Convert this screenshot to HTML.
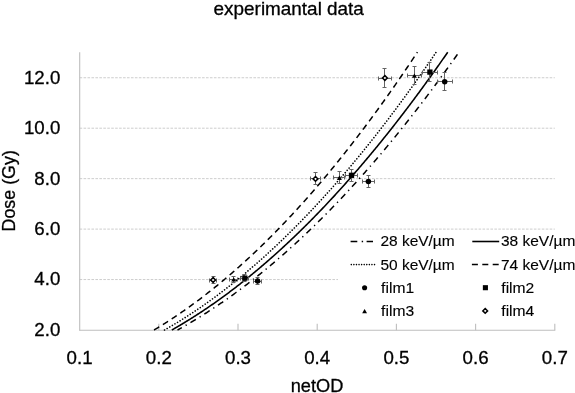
<!DOCTYPE html>
<html><head><meta charset="utf-8"><title>chart</title>
<style>
html,body{margin:0;padding:0;background:#fff;}
body{width:575px;height:393px;overflow:hidden;}
svg{display:block;will-change:transform;}
text{font-family:"Liberation Sans",sans-serif;fill:#000;stroke:#000;stroke-width:0.3px;}
</style></head><body>
<svg width="575" height="393" viewBox="0 0 575 393">
<rect width="575" height="393" fill="#fff"/>

<line x1="79.6" x2="554.8" y1="279.55" y2="279.55" stroke="#cdcdcd" stroke-width="1" stroke-dasharray="2.6 1.35"/>
<line x1="79.6" x2="554.8" y1="229.10" y2="229.10" stroke="#cdcdcd" stroke-width="1" stroke-dasharray="2.6 1.35"/>
<line x1="79.6" x2="554.8" y1="178.65" y2="178.65" stroke="#cdcdcd" stroke-width="1" stroke-dasharray="2.6 1.35"/>
<line x1="79.6" x2="554.8" y1="128.20" y2="128.20" stroke="#cdcdcd" stroke-width="1" stroke-dasharray="2.6 1.35"/>
<line x1="79.6" x2="554.8" y1="77.75" y2="77.75" stroke="#cdcdcd" stroke-width="1" stroke-dasharray="2.6 1.35"/>
<line x1="79.69999999999999" x2="79.69999999999999" y1="52.2" y2="330.8" stroke="#bebebe" stroke-width="1.1"/>
<line x1="79.6" x2="555.3" y1="330.3" y2="330.3" stroke="#bebebe" stroke-width="1.1"/>
<line x1="158.80" x2="158.80" y1="323.7" y2="330.3" stroke="#bebebe" stroke-width="1.1"/>
<line x1="238.00" x2="238.00" y1="323.7" y2="330.3" stroke="#bebebe" stroke-width="1.1"/>
<line x1="317.20" x2="317.20" y1="323.7" y2="330.3" stroke="#bebebe" stroke-width="1.1"/>
<line x1="396.40" x2="396.40" y1="323.7" y2="330.3" stroke="#bebebe" stroke-width="1.1"/>
<line x1="475.60" x2="475.60" y1="323.7" y2="330.3" stroke="#bebebe" stroke-width="1.1"/>
<line x1="554.80" x2="554.80" y1="323.7" y2="330.3" stroke="#bebebe" stroke-width="1.1"/>
<g fill="none" stroke="#000">
<path d="M177.52,330.00 L178.22,329.61 L178.93,329.22 L179.63,328.83 L180.34,328.44 L181.04,328.04 L181.75,327.65 L182.45,327.25 L183.16,326.85 L183.86,326.45 L184.57,326.05 L185.28,325.64 L185.98,325.24 L186.69,324.83 L187.39,324.42 L188.10,324.01 L188.80,323.60 L189.51,323.19 L190.21,322.77 L190.92,322.36 L191.62,321.94 L192.33,321.52 L193.03,321.10 L193.74,320.67 L194.44,320.25 L195.15,319.82 L195.85,319.40 L196.56,318.97 L197.27,318.54 L197.97,318.11 L198.68,317.67 L199.38,317.24 L200.09,316.80 L200.79,316.36 L201.50,315.93 L202.20,315.48 L202.91,315.04 L203.61,314.60 L204.32,314.15 L205.02,313.70 L205.73,313.26 L206.43,312.81 L207.14,312.35 L207.84,311.90 L208.55,311.45 L209.25,310.99 L209.96,310.53 L210.67,310.07 L211.37,309.61 L212.08,309.15 L212.78,308.68 L213.49,308.22 L214.19,307.75 L214.90,307.28 L215.60,306.81 L216.31,306.34 L217.01,305.86 L217.72,305.39 L218.42,304.91 L219.13,304.44 L219.83,303.96 L220.54,303.47 L221.24,302.99 L221.95,302.51 L222.65,302.02 L223.36,301.53 L224.07,301.04 L224.77,300.55 L225.48,300.06 L226.18,299.57 L226.89,299.07 L227.59,298.58 L228.30,298.08 L229.00,297.58 L229.71,297.08 L230.41,296.57 L231.12,296.07 L231.82,295.56 L232.53,295.06 L233.23,294.55 L233.94,294.04 L234.64,293.52 L235.35,293.01 L236.05,292.50 L236.76,291.98 L237.47,291.46 L238.17,290.94 L238.88,290.42 L239.58,289.90 L240.29,289.37 L240.99,288.85 L241.70,288.32 L242.40,287.79 L243.11,287.26 L243.81,286.73 L244.52,286.19 L245.22,285.66 L245.93,285.12 L246.63,284.58 L247.34,284.04 L248.04,283.50 L248.75,282.96 L249.45,282.41 L250.16,281.87 L250.87,281.32 L251.57,280.77 L252.28,280.22 L252.98,279.66 L253.69,279.11 L254.39,278.56 L255.10,278.00 L255.80,277.44 L256.51,276.88 L257.21,276.32 L257.92,275.75 L258.62,275.19 L259.33,274.62 L260.03,274.06 L260.74,273.49 L261.44,272.92 L262.15,272.34 L262.86,271.77 L263.56,271.19 L264.27,270.62 L264.97,270.04 L265.68,269.46 L266.38,268.88 L267.09,268.29 L267.79,267.71 L268.50,267.12 L269.20,266.53 L269.91,265.94 L270.61,265.35 L271.32,264.76 L272.02,264.17 L272.73,263.57 L273.43,262.97 L274.14,262.37 L274.84,261.77 L275.55,261.17 L276.26,260.57 L276.96,259.96 L277.67,259.36 L278.37,258.75 L279.08,258.14 L279.78,257.53 L280.49,256.91 L281.19,256.30 L281.90,255.68 L282.60,255.07 L283.31,254.45 L284.01,253.83 L284.72,253.21 L285.42,252.58 L286.13,251.96 L286.83,251.33 L287.54,250.70 L288.24,250.07 L288.95,249.44 L289.66,248.81 L290.36,248.17 L291.07,247.54 L291.77,246.90 L292.48,246.26 L293.18,245.62 L293.89,244.98 L294.59,244.34 L295.30,243.69 L296.00,243.04 L296.71,242.40 L297.41,241.75 L298.12,241.09 L298.82,240.44 L299.53,239.79 L300.23,239.13 L300.94,238.47 L301.64,237.81 L302.35,237.15 L303.06,236.49 L303.76,235.83 L304.47,235.16 L305.17,234.50 L305.88,233.83 L306.58,233.16 L307.29,232.49 L307.99,231.81 L308.70,231.14 L309.40,230.46 L310.11,229.78 L310.81,229.10 L311.52,228.42 L312.22,227.74 L312.93,227.06 L313.63,226.37 L314.34,225.69 L315.04,225.00 L315.75,224.31 L316.46,223.62 L317.16,222.92 L317.87,222.23 L318.57,221.53 L319.28,220.83 L319.98,220.13 L320.69,219.43 L321.39,218.73 L322.10,218.03 L322.80,217.32 L323.51,216.61 L324.21,215.91 L324.92,215.20 L325.62,214.48 L326.33,213.77 L327.03,213.06 L327.74,212.34 L328.45,211.62 L329.15,210.90 L329.86,210.18 L330.56,209.46 L331.27,208.73 L331.97,208.01 L332.68,207.28 L333.38,206.55 L334.09,205.82 L334.79,205.09 L335.50,204.36 L336.20,203.62 L336.91,202.89 L337.61,202.15 L338.32,201.41 L339.02,200.67 L339.73,199.92 L340.43,199.18 L341.14,198.43 L341.85,197.69 L342.55,196.94 L343.26,196.19 L343.96,195.44 L344.67,194.68 L345.37,193.93 L346.08,193.17 L346.78,192.41 L347.49,191.65 L348.19,190.89 L348.90,190.13 L349.60,189.37 L350.31,188.60 L351.01,187.83 L351.72,187.06 L352.42,186.29 L353.13,185.52 L353.83,184.75 L354.54,183.97 L355.25,183.20 L355.95,182.42 L356.66,181.64 L357.36,180.86 L358.07,180.07 L358.77,179.29 L359.48,178.50 L360.18,177.72 L360.89,176.93 L361.59,176.14 L362.30,175.34 L363.00,174.55 L363.71,173.75 L364.41,172.96 L365.12,172.16 L365.82,171.36 L366.53,170.56 L367.23,169.76 L367.94,168.95 L368.65,168.14 L369.35,167.34 L370.06,166.53 L370.76,165.72 L371.47,164.91 L372.17,164.09 L372.88,163.28 L373.58,162.46 L374.29,161.64 L374.99,160.82 L375.70,160.00 L376.40,159.18 L377.11,158.35 L377.81,157.53 L378.52,156.70 L379.22,155.87 L379.93,155.04 L380.63,154.21 L381.34,153.37 L382.05,152.54 L382.75,151.70 L383.46,150.86 L384.16,150.02 L384.87,149.18 L385.57,148.34 L386.28,147.49 L386.98,146.64 L387.69,145.80 L388.39,144.95 L389.10,144.10 L389.80,143.24 L390.51,142.39 L391.21,141.53 L391.92,140.68 L392.62,139.82 L393.33,138.96 L394.04,138.10 L394.74,137.23 L395.45,136.37 L396.15,135.50 L396.86,134.63 L397.56,133.76 L398.27,132.89 L398.97,132.02 L399.68,131.15 L400.38,130.27 L401.09,129.39 L401.79,128.52 L402.50,127.64 L403.20,126.75 L403.91,125.87 L404.61,124.98 L405.32,124.10 L406.02,123.21 L406.73,122.32 L407.44,121.43 L408.14,120.54 L408.85,119.64 L409.55,118.75 L410.26,117.85 L410.96,116.95 L411.67,116.05 L412.37,115.15 L413.08,114.25 L413.78,113.34 L414.49,112.43 L415.19,111.53 L415.90,110.62 L416.60,109.70 L417.31,108.79 L418.01,107.88 L418.72,106.96 L419.42,106.04 L420.13,105.12 L420.84,104.20 L421.54,103.28 L422.25,102.36 L422.95,101.43 L423.66,100.51 L424.36,99.58 L425.07,98.65 L425.77,97.72 L426.48,96.78 L427.18,95.85 L427.89,94.91 L428.59,93.98 L429.30,93.04 L430.00,92.10 L430.71,91.15 L431.41,90.21 L432.12,89.27 L432.82,88.32 L433.53,87.37 L434.24,86.42 L434.94,85.47 L435.65,84.52 L436.35,83.56 L437.06,82.61 L437.76,81.65 L438.47,80.69 L439.17,79.73 L439.88,78.77 L440.58,77.80 L441.29,76.84 L441.99,75.87 L442.70,74.90 L443.40,73.93 L444.11,72.96 L444.81,71.99 L445.52,71.01 L446.22,70.04 L446.93,69.06 L447.64,68.08 L448.34,67.10 L449.05,66.12 L449.75,65.13 L450.46,64.15 L451.16,63.16 L451.87,62.17 L452.57,61.18 L453.28,60.19 L453.98,59.20 L454.69,58.20 L455.39,57.20 L456.10,56.21 L456.80,55.21 L457.51,54.21 L458.21,53.20 L458.92,52.20" stroke-width="1.5" stroke-dasharray="6.3 4.35 1.3 4.35" stroke-dashoffset="1.4"/>
<path d="M171.83,330.00 L172.52,329.61 L173.21,329.21 L173.90,328.82 L174.59,328.42 L175.28,328.02 L175.97,327.63 L176.67,327.22 L177.36,326.82 L178.05,326.42 L178.74,326.01 L179.43,325.60 L180.12,325.20 L180.82,324.79 L181.51,324.37 L182.20,323.96 L182.89,323.55 L183.58,323.13 L184.27,322.71 L184.96,322.29 L185.66,321.87 L186.35,321.45 L187.04,321.02 L187.73,320.60 L188.42,320.17 L189.11,319.74 L189.80,319.31 L190.50,318.88 L191.19,318.45 L191.88,318.01 L192.57,317.58 L193.26,317.14 L193.95,316.70 L194.65,316.26 L195.34,315.82 L196.03,315.37 L196.72,314.93 L197.41,314.48 L198.10,314.03 L198.79,313.58 L199.49,313.13 L200.18,312.68 L200.87,312.22 L201.56,311.76 L202.25,311.31 L202.94,310.85 L203.63,310.39 L204.33,309.92 L205.02,309.46 L205.71,309.00 L206.40,308.53 L207.09,308.06 L207.78,307.59 L208.47,307.12 L209.17,306.65 L209.86,306.17 L210.55,305.70 L211.24,305.22 L211.93,304.74 L212.62,304.26 L213.32,303.78 L214.01,303.29 L214.70,302.81 L215.39,302.32 L216.08,301.83 L216.77,301.34 L217.46,300.85 L218.16,300.36 L218.85,299.86 L219.54,299.37 L220.23,298.87 L220.92,298.37 L221.61,297.87 L222.30,297.37 L223.00,296.86 L223.69,296.36 L224.38,295.85 L225.07,295.34 L225.76,294.83 L226.45,294.32 L227.14,293.81 L227.84,293.30 L228.53,292.78 L229.22,292.26 L229.91,291.74 L230.60,291.22 L231.29,290.70 L231.99,290.18 L232.68,289.65 L233.37,289.13 L234.06,288.60 L234.75,288.07 L235.44,287.54 L236.13,287.01 L236.83,286.47 L237.52,285.94 L238.21,285.40 L238.90,284.86 L239.59,284.32 L240.28,283.78 L240.97,283.23 L241.67,282.69 L242.36,282.14 L243.05,281.60 L243.74,281.05 L244.43,280.50 L245.12,279.94 L245.81,279.39 L246.51,278.83 L247.20,278.28 L247.89,277.72 L248.58,277.16 L249.27,276.60 L249.96,276.03 L250.66,275.47 L251.35,274.90 L252.04,274.33 L252.73,273.76 L253.42,273.19 L254.11,272.62 L254.80,272.05 L255.50,271.47 L256.19,270.89 L256.88,270.32 L257.57,269.74 L258.26,269.15 L258.95,268.57 L259.64,267.99 L260.34,267.40 L261.03,266.81 L261.72,266.22 L262.41,265.63 L263.10,265.04 L263.79,264.45 L264.48,263.85 L265.18,263.25 L265.87,262.66 L266.56,262.06 L267.25,261.45 L267.94,260.85 L268.63,260.25 L269.33,259.64 L270.02,259.03 L270.71,258.42 L271.40,257.81 L272.09,257.20 L272.78,256.59 L273.47,255.97 L274.17,255.36 L274.86,254.74 L275.55,254.12 L276.24,253.50 L276.93,252.87 L277.62,252.25 L278.31,251.62 L279.01,251.00 L279.70,250.37 L280.39,249.74 L281.08,249.10 L281.77,248.47 L282.46,247.84 L283.16,247.20 L283.85,246.56 L284.54,245.92 L285.23,245.28 L285.92,244.64 L286.61,243.99 L287.30,243.35 L288.00,242.70 L288.69,242.05 L289.38,241.40 L290.07,240.75 L290.76,240.10 L291.45,239.44 L292.14,238.78 L292.84,238.13 L293.53,237.47 L294.22,236.81 L294.91,236.14 L295.60,235.48 L296.29,234.81 L296.98,234.15 L297.68,233.48 L298.37,232.81 L299.06,232.14 L299.75,231.46 L300.44,230.79 L301.13,230.11 L301.83,229.43 L302.52,228.75 L303.21,228.07 L303.90,227.39 L304.59,226.71 L305.28,226.02 L305.97,225.33 L306.67,224.65 L307.36,223.96 L308.05,223.26 L308.74,222.57 L309.43,221.88 L310.12,221.18 L310.81,220.48 L311.51,219.78 L312.20,219.08 L312.89,218.38 L313.58,217.68 L314.27,216.97 L314.96,216.26 L315.65,215.55 L316.35,214.84 L317.04,214.13 L317.73,213.42 L318.42,212.71 L319.11,211.99 L319.80,211.27 L320.50,210.55 L321.19,209.83 L321.88,209.11 L322.57,208.39 L323.26,207.66 L323.95,206.93 L324.64,206.21 L325.34,205.48 L326.03,204.74 L326.72,204.01 L327.41,203.28 L328.10,202.54 L328.79,201.80 L329.48,201.06 L330.18,200.32 L330.87,199.58 L331.56,198.84 L332.25,198.09 L332.94,197.35 L333.63,196.60 L334.32,195.85 L335.02,195.10 L335.71,194.34 L336.40,193.59 L337.09,192.83 L337.78,192.08 L338.47,191.32 L339.17,190.56 L339.86,189.79 L340.55,189.03 L341.24,188.27 L341.93,187.50 L342.62,186.73 L343.31,185.96 L344.01,185.19 L344.70,184.42 L345.39,183.64 L346.08,182.87 L346.77,182.09 L347.46,181.31 L348.15,180.53 L348.85,179.75 L349.54,178.97 L350.23,178.18 L350.92,177.39 L351.61,176.61 L352.30,175.82 L352.99,175.03 L353.69,174.23 L354.38,173.44 L355.07,172.64 L355.76,171.85 L356.45,171.05 L357.14,170.25 L357.84,169.45 L358.53,168.64 L359.22,167.84 L359.91,167.03 L360.60,166.22 L361.29,165.41 L361.98,164.60 L362.68,163.79 L363.37,162.98 L364.06,162.16 L364.75,161.34 L365.44,160.53 L366.13,159.71 L366.82,158.88 L367.52,158.06 L368.21,157.24 L368.90,156.41 L369.59,155.58 L370.28,154.75 L370.97,153.92 L371.67,153.09 L372.36,152.26 L373.05,151.42 L373.74,150.58 L374.43,149.75 L375.12,148.91 L375.81,148.06 L376.51,147.22 L377.20,146.38 L377.89,145.53 L378.58,144.68 L379.27,143.83 L379.96,142.98 L380.65,142.13 L381.35,141.28 L382.04,140.42 L382.73,139.57 L383.42,138.71 L384.11,137.85 L384.80,136.99 L385.49,136.12 L386.19,135.26 L386.88,134.39 L387.57,133.52 L388.26,132.66 L388.95,131.79 L389.64,130.91 L390.34,130.04 L391.03,129.16 L391.72,128.29 L392.41,127.41 L393.10,126.53 L393.79,125.65 L394.48,124.77 L395.18,123.88 L395.87,123.00 L396.56,122.11 L397.25,121.22 L397.94,120.33 L398.63,119.44 L399.32,118.54 L400.02,117.65 L400.71,116.75 L401.40,115.85 L402.09,114.95 L402.78,114.05 L403.47,113.15 L404.16,112.25 L404.86,111.34 L405.55,110.43 L406.24,109.52 L406.93,108.61 L407.62,107.70 L408.31,106.79 L409.01,105.87 L409.70,104.96 L410.39,104.04 L411.08,103.12 L411.77,102.20 L412.46,101.28 L413.15,100.35 L413.85,99.43 L414.54,98.50 L415.23,97.57 L415.92,96.64 L416.61,95.71 L417.30,94.78 L417.99,93.84 L418.69,92.91 L419.38,91.97 L420.07,91.03 L420.76,90.09 L421.45,89.14 L422.14,88.20 L422.83,87.26 L423.53,86.31 L424.22,85.36 L424.91,84.41 L425.60,83.46 L426.29,82.50 L426.98,81.55 L427.68,80.59 L428.37,79.64 L429.06,78.68 L429.75,77.72 L430.44,76.75 L431.13,75.79 L431.82,74.83 L432.52,73.86 L433.21,72.89 L433.90,71.92 L434.59,70.95 L435.28,69.98 L435.97,69.00 L436.66,68.02 L437.36,67.05 L438.05,66.07 L438.74,65.09 L439.43,64.11 L440.12,63.12 L440.81,62.14 L441.50,61.15 L442.20,60.16 L442.89,59.17 L443.58,58.18 L444.27,57.19 L444.96,56.19 L445.65,55.20 L446.35,54.20 L447.04,53.20 L447.73,52.20" stroke-width="1.58"/>
<path d="M164.57,330.00 L165.25,329.61 L165.93,329.22 L166.61,328.83 L167.29,328.44 L167.97,328.04 L168.65,327.65 L169.33,327.25 L170.01,326.85 L170.69,326.45 L171.37,326.05 L172.06,325.64 L172.74,325.24 L173.42,324.83 L174.10,324.42 L174.78,324.01 L175.46,323.60 L176.14,323.19 L176.82,322.77 L177.50,322.36 L178.18,321.94 L178.86,321.52 L179.54,321.10 L180.22,320.68 L180.90,320.25 L181.58,319.83 L182.26,319.40 L182.95,318.97 L183.63,318.54 L184.31,318.11 L184.99,317.68 L185.67,317.24 L186.35,316.81 L187.03,316.37 L187.71,315.93 L188.39,315.49 L189.07,315.05 L189.75,314.60 L190.43,314.16 L191.11,313.71 L191.79,313.26 L192.47,312.81 L193.16,312.36 L193.84,311.91 L194.52,311.45 L195.20,311.00 L195.88,310.54 L196.56,310.08 L197.24,309.62 L197.92,309.15 L198.60,308.69 L199.28,308.22 L199.96,307.76 L200.64,307.29 L201.32,306.82 L202.00,306.35 L202.68,305.87 L203.36,305.40 L204.05,304.92 L204.73,304.44 L205.41,303.96 L206.09,303.48 L206.77,303.00 L207.45,302.52 L208.13,302.03 L208.81,301.54 L209.49,301.05 L210.17,300.56 L210.85,300.07 L211.53,299.58 L212.21,299.08 L212.89,298.59 L213.57,298.09 L214.26,297.59 L214.94,297.09 L215.62,296.58 L216.30,296.08 L216.98,295.57 L217.66,295.07 L218.34,294.56 L219.02,294.05 L219.70,293.53 L220.38,293.02 L221.06,292.51 L221.74,291.99 L222.42,291.47 L223.10,290.95 L223.78,290.43 L224.47,289.91 L225.15,289.38 L225.83,288.86 L226.51,288.33 L227.19,287.80 L227.87,287.27 L228.55,286.74 L229.23,286.20 L229.91,285.67 L230.59,285.13 L231.27,284.59 L231.95,284.05 L232.63,283.51 L233.31,282.97 L233.99,282.42 L234.67,281.88 L235.36,281.33 L236.04,280.78 L236.72,280.23 L237.40,279.68 L238.08,279.12 L238.76,278.57 L239.44,278.01 L240.12,277.45 L240.80,276.89 L241.48,276.33 L242.16,275.77 L242.84,275.20 L243.52,274.64 L244.20,274.07 L244.88,273.50 L245.57,272.93 L246.25,272.36 L246.93,271.78 L247.61,271.21 L248.29,270.63 L248.97,270.05 L249.65,269.47 L250.33,268.89 L251.01,268.31 L251.69,267.72 L252.37,267.13 L253.05,266.55 L253.73,265.96 L254.41,265.37 L255.09,264.77 L255.77,264.18 L256.46,263.58 L257.14,262.99 L257.82,262.39 L258.50,261.79 L259.18,261.19 L259.86,260.58 L260.54,259.98 L261.22,259.37 L261.90,258.76 L262.58,258.15 L263.26,257.54 L263.94,256.93 L264.62,256.32 L265.30,255.70 L265.98,255.08 L266.67,254.46 L267.35,253.84 L268.03,253.22 L268.71,252.60 L269.39,251.97 L270.07,251.35 L270.75,250.72 L271.43,250.09 L272.11,249.46 L272.79,248.82 L273.47,248.19 L274.15,247.55 L274.83,246.92 L275.51,246.28 L276.19,245.64 L276.87,244.99 L277.56,244.35 L278.24,243.71 L278.92,243.06 L279.60,242.41 L280.28,241.76 L280.96,241.11 L281.64,240.46 L282.32,239.80 L283.00,239.15 L283.68,238.49 L284.36,237.83 L285.04,237.17 L285.72,236.51 L286.40,235.84 L287.08,235.18 L287.77,234.51 L288.45,233.84 L289.13,233.17 L289.81,232.50 L290.49,231.83 L291.17,231.15 L291.85,230.48 L292.53,229.80 L293.21,229.12 L293.89,228.44 L294.57,227.76 L295.25,227.07 L295.93,226.39 L296.61,225.70 L297.29,225.01 L297.98,224.32 L298.66,223.63 L299.34,222.94 L300.02,222.24 L300.70,221.55 L301.38,220.85 L302.06,220.15 L302.74,219.45 L303.42,218.75 L304.10,218.04 L304.78,217.34 L305.46,216.63 L306.14,215.92 L306.82,215.21 L307.50,214.50 L308.18,213.79 L308.87,213.07 L309.55,212.36 L310.23,211.64 L310.91,210.92 L311.59,210.20 L312.27,209.47 L312.95,208.75 L313.63,208.02 L314.31,207.30 L314.99,206.57 L315.67,205.84 L316.35,205.11 L317.03,204.37 L317.71,203.64 L318.39,202.90 L319.08,202.16 L319.76,201.42 L320.44,200.68 L321.12,199.94 L321.80,199.20 L322.48,198.45 L323.16,197.70 L323.84,196.95 L324.52,196.20 L325.20,195.45 L325.88,194.70 L326.56,193.94 L327.24,193.19 L327.92,192.43 L328.60,191.67 L329.28,190.91 L329.97,190.14 L330.65,189.38 L331.33,188.61 L332.01,187.85 L332.69,187.08 L333.37,186.31 L334.05,185.54 L334.73,184.76 L335.41,183.99 L336.09,183.21 L336.77,182.43 L337.45,181.65 L338.13,180.87 L338.81,180.09 L339.49,179.30 L340.18,178.52 L340.86,177.73 L341.54,176.94 L342.22,176.15 L342.90,175.36 L343.58,174.56 L344.26,173.77 L344.94,172.97 L345.62,172.17 L346.30,171.37 L346.98,170.57 L347.66,169.77 L348.34,168.96 L349.02,168.16 L349.70,167.35 L350.38,166.54 L351.07,165.73 L351.75,164.92 L352.43,164.10 L353.11,163.29 L353.79,162.47 L354.47,161.65 L355.15,160.83 L355.83,160.01 L356.51,159.19 L357.19,158.36 L357.87,157.54 L358.55,156.71 L359.23,155.88 L359.91,155.05 L360.59,154.22 L361.28,153.38 L361.96,152.55 L362.64,151.71 L363.32,150.87 L364.00,150.03 L364.68,149.19 L365.36,148.35 L366.04,147.50 L366.72,146.66 L367.40,145.81 L368.08,144.96 L368.76,144.11 L369.44,143.26 L370.12,142.40 L370.80,141.55 L371.49,140.69 L372.17,139.83 L372.85,138.97 L373.53,138.11 L374.21,137.24 L374.89,136.38 L375.57,135.51 L376.25,134.65 L376.93,133.78 L377.61,132.90 L378.29,132.03 L378.97,131.16 L379.65,130.28 L380.33,129.40 L381.01,128.53 L381.69,127.65 L382.38,126.76 L383.06,125.88 L383.74,124.99 L384.42,124.11 L385.10,123.22 L385.78,122.33 L386.46,121.44 L387.14,120.55 L387.82,119.65 L388.50,118.76 L389.18,117.86 L389.86,116.96 L390.54,116.06 L391.22,115.16 L391.90,114.25 L392.59,113.35 L393.27,112.44 L393.95,111.53 L394.63,110.62 L395.31,109.71 L395.99,108.80 L396.67,107.89 L397.35,106.97 L398.03,106.05 L398.71,105.13 L399.39,104.21 L400.07,103.29 L400.75,102.37 L401.43,101.44 L402.11,100.51 L402.79,99.59 L403.48,98.66 L404.16,97.72 L404.84,96.79 L405.52,95.86 L406.20,94.92 L406.88,93.98 L407.56,93.04 L408.24,92.10 L408.92,91.16 L409.60,90.22 L410.28,89.27 L410.96,88.32 L411.64,87.38 L412.32,86.43 L413.00,85.47 L413.69,84.52 L414.37,83.57 L415.05,82.61 L415.73,81.65 L416.41,80.69 L417.09,79.73 L417.77,78.77 L418.45,77.81 L419.13,76.84 L419.81,75.87 L420.49,74.90 L421.17,73.93 L421.85,72.96 L422.53,71.99 L423.21,71.02 L423.90,70.04 L424.58,69.06 L425.26,68.08 L425.94,67.10 L426.62,66.12 L427.30,65.13 L427.98,64.15 L428.66,63.16 L429.34,62.17 L430.02,61.18 L430.70,60.19 L431.38,59.20 L432.06,58.20 L432.74,57.21 L433.42,56.21 L434.10,55.21 L434.79,54.21 L435.47,53.20 L436.15,52.20" stroke-width="1.65" stroke-dasharray="0.01 3.0" stroke-linecap="round"/>
<path d="M154.03,330.00 L154.69,329.61 L155.35,329.21 L156.01,328.82 L156.67,328.42 L157.33,328.02 L157.99,327.62 L158.65,327.21 L159.31,326.81 L159.97,326.40 L160.63,326.00 L161.29,325.59 L161.95,325.18 L162.61,324.77 L163.27,324.35 L163.93,323.94 L164.59,323.52 L165.25,323.11 L165.91,322.69 L166.57,322.27 L167.23,321.84 L167.89,321.42 L168.55,320.99 L169.21,320.57 L169.87,320.14 L170.53,319.71 L171.19,319.28 L171.85,318.84 L172.51,318.41 L173.17,317.97 L173.83,317.54 L174.49,317.10 L175.15,316.66 L175.81,316.22 L176.47,315.77 L177.13,315.33 L177.79,314.88 L178.45,314.43 L179.11,313.98 L179.77,313.53 L180.43,313.08 L181.09,312.62 L181.75,312.17 L182.41,311.71 L183.07,311.25 L183.73,310.79 L184.39,310.33 L185.05,309.87 L185.71,309.40 L186.38,308.94 L187.04,308.47 L187.70,308.00 L188.36,307.53 L189.02,307.05 L189.68,306.58 L190.34,306.10 L191.00,305.63 L191.66,305.15 L192.32,304.67 L192.98,304.19 L193.64,303.70 L194.30,303.22 L194.96,302.73 L195.62,302.25 L196.28,301.76 L196.94,301.27 L197.60,300.77 L198.26,300.28 L198.92,299.78 L199.58,299.29 L200.24,298.79 L200.90,298.29 L201.56,297.79 L202.22,297.28 L202.88,296.78 L203.54,296.27 L204.20,295.77 L204.86,295.26 L205.52,294.75 L206.18,294.23 L206.84,293.72 L207.50,293.21 L208.16,292.69 L208.82,292.17 L209.48,291.65 L210.14,291.13 L210.80,290.61 L211.46,290.08 L212.12,289.56 L212.78,289.03 L213.44,288.50 L214.10,287.97 L214.76,287.44 L215.42,286.91 L216.08,286.37 L216.74,285.83 L217.40,285.30 L218.06,284.76 L218.72,284.22 L219.38,283.67 L220.04,283.13 L220.70,282.58 L221.36,282.04 L222.02,281.49 L222.68,280.94 L223.34,280.39 L224.00,279.83 L224.66,279.28 L225.32,278.72 L225.98,278.16 L226.64,277.61 L227.30,277.04 L227.96,276.48 L228.62,275.92 L229.28,275.35 L229.94,274.79 L230.60,274.22 L231.26,273.65 L231.92,273.08 L232.58,272.50 L233.24,271.93 L233.90,271.35 L234.56,270.78 L235.22,270.20 L235.88,269.62 L236.54,269.03 L237.20,268.45 L237.86,267.87 L238.52,267.28 L239.18,266.69 L239.84,266.10 L240.50,265.51 L241.16,264.92 L241.82,264.32 L242.48,263.73 L243.14,263.13 L243.80,262.53 L244.46,261.93 L245.12,261.33 L245.78,260.72 L246.44,260.12 L247.10,259.51 L247.76,258.91 L248.42,258.30 L249.08,257.69 L249.74,257.07 L250.40,256.46 L251.06,255.84 L251.72,255.23 L252.38,254.61 L253.04,253.99 L253.70,253.37 L254.36,252.74 L255.02,252.12 L255.68,251.49 L256.34,250.86 L257.00,250.23 L257.66,249.60 L258.32,248.97 L258.98,248.34 L259.64,247.70 L260.30,247.07 L260.96,246.43 L261.62,245.79 L262.28,245.15 L262.94,244.50 L263.60,243.86 L264.26,243.21 L264.92,242.56 L265.58,241.92 L266.24,241.26 L266.90,240.61 L267.56,239.96 L268.22,239.30 L268.88,238.65 L269.54,237.99 L270.20,237.33 L270.86,236.67 L271.52,236.01 L272.18,235.34 L272.84,234.68 L273.50,234.01 L274.16,233.34 L274.82,232.67 L275.48,232.00 L276.14,231.32 L276.80,230.65 L277.46,229.97 L278.12,229.29 L278.79,228.61 L279.45,227.93 L280.11,227.25 L280.77,226.57 L281.43,225.88 L282.09,225.19 L282.75,224.51 L283.41,223.82 L284.07,223.12 L284.73,222.43 L285.39,221.74 L286.05,221.04 L286.71,220.34 L287.37,219.64 L288.03,218.94 L288.69,218.24 L289.35,217.54 L290.01,216.83 L290.67,216.12 L291.33,215.41 L291.99,214.70 L292.65,213.99 L293.31,213.28 L293.97,212.57 L294.63,211.85 L295.29,211.13 L295.95,210.41 L296.61,209.69 L297.27,208.97 L297.93,208.25 L298.59,207.52 L299.25,206.80 L299.91,206.07 L300.57,205.34 L301.23,204.61 L301.89,203.87 L302.55,203.14 L303.21,202.40 L303.87,201.67 L304.53,200.93 L305.19,200.19 L305.85,199.44 L306.51,198.70 L307.17,197.96 L307.83,197.21 L308.49,196.46 L309.15,195.71 L309.81,194.96 L310.47,194.21 L311.13,193.45 L311.79,192.70 L312.45,191.94 L313.11,191.18 L313.77,190.42 L314.43,189.66 L315.09,188.90 L315.75,188.13 L316.41,187.37 L317.07,186.60 L317.73,185.83 L318.39,185.06 L319.05,184.29 L319.71,183.51 L320.37,182.74 L321.03,181.96 L321.69,181.18 L322.35,180.40 L323.01,179.62 L323.67,178.84 L324.33,178.05 L324.99,177.27 L325.65,176.48 L326.31,175.69 L326.97,174.90 L327.63,174.11 L328.29,173.31 L328.95,172.52 L329.61,171.72 L330.27,170.92 L330.93,170.12 L331.59,169.32 L332.25,168.52 L332.91,167.72 L333.57,166.91 L334.23,166.10 L334.89,165.29 L335.55,164.48 L336.21,163.67 L336.87,162.86 L337.53,162.04 L338.19,161.23 L338.85,160.41 L339.51,159.59 L340.17,158.77 L340.83,157.95 L341.49,157.12 L342.15,156.30 L342.81,155.47 L343.47,154.64 L344.13,153.81 L344.79,152.98 L345.45,152.15 L346.11,151.31 L346.77,150.47 L347.43,149.64 L348.09,148.80 L348.75,147.96 L349.41,147.11 L350.07,146.27 L350.73,145.42 L351.39,144.58 L352.05,143.73 L352.71,142.88 L353.37,142.03 L354.03,141.17 L354.69,140.32 L355.35,139.46 L356.01,138.61 L356.67,137.75 L357.33,136.89 L357.99,136.02 L358.65,135.16 L359.31,134.30 L359.97,133.43 L360.63,132.56 L361.29,131.69 L361.95,130.82 L362.61,129.95 L363.27,129.07 L363.93,128.20 L364.59,127.32 L365.25,126.44 L365.91,125.56 L366.57,124.68 L367.23,123.80 L367.89,122.91 L368.55,122.02 L369.21,121.14 L369.87,120.25 L370.53,119.36 L371.20,118.46 L371.86,117.57 L372.52,116.67 L373.18,115.78 L373.84,114.88 L374.50,113.98 L375.16,113.08 L375.82,112.17 L376.48,111.27 L377.14,110.36 L377.80,109.45 L378.46,108.54 L379.12,107.63 L379.78,106.72 L380.44,105.81 L381.10,104.89 L381.76,103.97 L382.42,103.06 L383.08,102.14 L383.74,101.21 L384.40,100.29 L385.06,99.37 L385.72,98.44 L386.38,97.51 L387.04,96.58 L387.70,95.65 L388.36,94.72 L389.02,93.79 L389.68,92.85 L390.34,91.92 L391.00,90.98 L391.66,90.04 L392.32,89.10 L392.98,88.15 L393.64,87.21 L394.30,86.26 L394.96,85.32 L395.62,84.37 L396.28,83.42 L396.94,82.46 L397.60,81.51 L398.26,80.56 L398.92,79.60 L399.58,78.64 L400.24,77.68 L400.90,76.72 L401.56,75.76 L402.22,74.79 L402.88,73.83 L403.54,72.86 L404.20,71.89 L404.86,70.92 L405.52,69.95 L406.18,68.98 L406.84,68.00 L407.50,67.03 L408.16,66.05 L408.82,65.07 L409.48,64.09 L410.14,63.11 L410.80,62.12 L411.46,61.14 L412.12,60.15 L412.78,59.16 L413.44,58.17 L414.10,57.18 L414.76,56.19 L415.42,55.19 L416.08,54.20 L416.74,53.20 L417.40,52.20" stroke-width="1.5" stroke-dasharray="6.1 4.3"/>
</g>
<path d="M209.5,280.5 H216.5 M209.5,278.5 V282.5 M216.5,278.5 V282.5 M213.5,276.5 V283.5 M211.5,276.5 H215.5 M211.5,283.5 H215.5" stroke="#636363" stroke-width="1" fill="none"/>
<path d="M229.5,279.5 H237.5 M229.5,277.5 V281.5 M237.5,277.5 V281.5 M233.5,276.5 V282.5 M231.5,276.5 H235.5 M231.5,282.5 H235.5" stroke="#636363" stroke-width="1" fill="none"/>
<path d="M240.5,278.5 H248.5 M240.5,276.5 V280.5 M248.5,276.5 V280.5 M244.5,274.5 V281.5 M242.5,274.5 H246.5 M242.5,281.5 H246.5" stroke="#636363" stroke-width="1" fill="none"/>
<path d="M253.5,281.5 H261.5 M253.5,279.5 V283.5 M261.5,279.5 V283.5 M257.5,277.5 V284.5 M255.5,277.5 H259.5 M255.5,284.5 H259.5" stroke="#636363" stroke-width="1" fill="none"/>
<path d="M310.5,178.5 H320.5 M310.5,176.5 V180.5 M320.5,176.5 V180.5 M315.5,172.5 V184.5 M313.5,172.5 H317.5 M313.5,184.5 H317.5" stroke="#636363" stroke-width="1" fill="none"/>
<path d="M333.5,177.5 H344.5 M333.5,175.5 V179.5 M344.5,175.5 V179.5 M339.5,171.5 V183.5 M337.5,171.5 H341.5 M337.5,183.5 H341.5" stroke="#636363" stroke-width="1" fill="none"/>
<path d="M345.5,175.5 H357.5 M345.5,173.5 V177.5 M357.5,173.5 V177.5 M351.5,169.5 V181.5 M349.5,169.5 H353.5 M349.5,181.5 H353.5" stroke="#636363" stroke-width="1" fill="none"/>
<path d="M362.5,181.5 H374.5 M362.5,179.5 V183.5 M374.5,179.5 V183.5 M368.5,175.5 V187.5 M366.5,175.5 H370.5 M366.5,187.5 H370.5" stroke="#636363" stroke-width="1" fill="none"/>
<path d="M378.5,78.5 H391.5 M378.5,76.5 V80.5 M391.5,76.5 V80.5 M384.5,68.5 V87.5 M382.5,68.5 H386.5 M382.5,87.5 H386.5" stroke="#636363" stroke-width="1" fill="none"/>
<path d="M407.5,75.5 H421.5 M407.5,73.5 V77.5 M421.5,73.5 V77.5 M414.5,66.5 V84.5 M412.5,66.5 H416.5 M412.5,84.5 H416.5" stroke="#636363" stroke-width="1" fill="none"/>
<path d="M422.5,72.5 H437.5 M422.5,70.5 V74.5 M437.5,70.5 V74.5 M429.5,62.5 V81.5 M427.5,62.5 H431.5 M427.5,81.5 H431.5" stroke="#636363" stroke-width="1" fill="none"/>
<path d="M437.5,81.5 H452.5 M437.5,79.5 V83.5 M452.5,79.5 V83.5 M444.5,72.5 V90.5 M442.5,72.5 H446.5 M442.5,90.5 H446.5" stroke="#636363" stroke-width="1" fill="none"/>
<path d="M213.1,277.6 L215.5,280.0 L213.1,282.4 L210.7,280.0 Z" fill="#fff" stroke="#000" stroke-width="1.5"/>
<path d="M233.7,277.2 L236.2,281.6 L231.2,281.6 Z" fill="#000"/>
<rect x="242.15" y="275.45000000000005" width="5.3" height="5.3" fill="#000"/>
<circle cx="257.6" cy="281.1" r="2.75" fill="#000"/>
<path d="M315.5,176.5 L317.9,178.9 L315.5,181.3 L313.1,178.9 Z" fill="#fff" stroke="#000" stroke-width="1.5"/>
<path d="M339.4,175.5 L341.9,179.9 L336.9,179.9 Z" fill="#000"/>
<rect x="348.85" y="172.65" width="5.3" height="5.3" fill="#000"/>
<circle cx="368.4" cy="181.5" r="2.75" fill="#000"/>
<path d="M384.9,75.6 L387.29999999999995,78.0 L384.9,80.4 L382.5,78.0 Z" fill="#fff" stroke="#000" stroke-width="1.5"/>
<path d="M414.4,73.4 L416.9,77.8 L411.9,77.8 Z" fill="#000"/>
<rect x="427.25" y="69.44999999999999" width="5.3" height="5.3" fill="#000"/>
<circle cx="444.7" cy="81.7" r="2.75" fill="#000"/>
<rect x="338" y="230.5" width="237" height="92.5" fill="#fff"/>
<g fill="none" stroke="#000">
<path d="M350.6,241.5 H357.3 M361.7,241.5 H363.1 M366.6,241.5 H373" stroke-width="1.5"/>
<path d="M351.3,264.6 H375.5" stroke-width="1.55" stroke-dasharray="0.01 2.57" stroke-linecap="round"/>
<path d="M472.3,241.5 H499.2" stroke-width="1.58"/>
<path d="M471.9,264.6 H499.0" stroke-width="1.5" stroke-dasharray="6 4.4"/>
</g>
<circle cx="364.6" cy="287.7" r="2.5575" fill="#000"/>
<path d="M364.6,308.94599999999997 L367.05,313.258 L362.15000000000003,313.258 Z" fill="#000"/>
<rect x="482.856" y="285.156" width="5.088" height="5.088" fill="#000"/>
<path d="M485.2,308.5 L487.59999999999997,310.9 L485.2,313.29999999999995 L482.8,310.9 Z" fill="#fff" stroke="#000" stroke-width="1.5"/>
<text x="380.4" y="245.9" font-size="13.9" style="stroke-width:0.12px" textLength="74.3" lengthAdjust="spacingAndGlyphs">28 keV/µm</text>
<text x="380.4" y="269.5" font-size="13.9" style="stroke-width:0.12px" textLength="74.3" lengthAdjust="spacingAndGlyphs">50 keV/µm</text>
<text x="381.1" y="292.5" font-size="14.4" style="stroke-width:0.12px" textLength="33.0" lengthAdjust="spacingAndGlyphs">film1</text>
<text x="381.1" y="315.8" font-size="14.4" style="stroke-width:0.12px" textLength="33.0" lengthAdjust="spacingAndGlyphs">film3</text>
<text x="501.0" y="245.9" font-size="13.9" style="stroke-width:0.12px" textLength="74.3" lengthAdjust="spacingAndGlyphs">38 keV/µm</text>
<text x="501.0" y="269.5" font-size="13.9" style="stroke-width:0.12px" textLength="74.3" lengthAdjust="spacingAndGlyphs">74 keV/µm</text>
<text x="501.3" y="292.5" font-size="14.4" style="stroke-width:0.12px" textLength="33.0" lengthAdjust="spacingAndGlyphs">film2</text>
<text x="501.3" y="315.8" font-size="14.4" style="stroke-width:0.12px" textLength="33.0" lengthAdjust="spacingAndGlyphs">film4</text>
<text x="60.3" y="335.90" font-size="18.7" text-anchor="end">2.0</text>
<text x="60.3" y="285.45" font-size="18.7" text-anchor="end">4.0</text>
<text x="60.3" y="235.00" font-size="18.7" text-anchor="end">6.0</text>
<text x="60.3" y="184.55" font-size="18.7" text-anchor="end">8.0</text>
<text x="60.3" y="134.10" font-size="18.7" text-anchor="end">10.0</text>
<text x="60.3" y="83.65" font-size="18.7" text-anchor="end">12.0</text>
<text x="79.60" y="363.8" font-size="18.7" text-anchor="middle">0.1</text>
<text x="158.80" y="363.8" font-size="18.7" text-anchor="middle">0.2</text>
<text x="238.00" y="363.8" font-size="18.7" text-anchor="middle">0.3</text>
<text x="317.20" y="363.8" font-size="18.7" text-anchor="middle">0.4</text>
<text x="396.40" y="363.8" font-size="18.7" text-anchor="middle">0.5</text>
<text x="475.60" y="363.8" font-size="18.7" text-anchor="middle">0.6</text>
<text x="554.80" y="363.8" font-size="18.7" text-anchor="middle">0.7</text>
<text x="317" y="391.6" font-size="18.7" text-anchor="middle" textLength="52.6" lengthAdjust="spacingAndGlyphs">netOD</text>
<text transform="translate(15.3,190.8) rotate(-90)" font-size="18.4" text-anchor="middle" textLength="81.3" lengthAdjust="spacingAndGlyphs">Dose (Gy)</text>
<text x="288.75" y="14.7" font-size="18.4" text-anchor="middle" textLength="150.3" lengthAdjust="spacingAndGlyphs">experimantal data</text>
</svg></body></html>
